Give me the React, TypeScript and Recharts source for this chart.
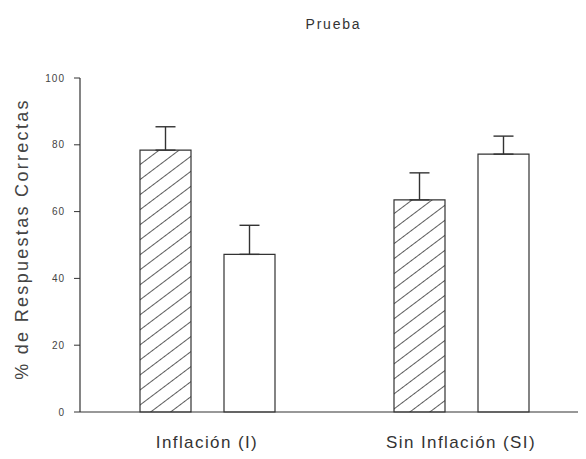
import { BarChart, Bar, XAxis, YAxis, ErrorBar } from 'recharts';

const categories = ['Inflación (I)', 'Sin Inflación (SI)'];
const hatchedValues = [78.4, 63.5];
const hatchedErrors = [7, 8.1];
const whiteValues = [47.2, 77.2];
const whiteErrors = [8.7, 5.4];
const yTicks = [0, 20, 40, 60, 80, 100];

const data = categories.map((name, i) => ({
  name,
  hatched: hatchedValues[i],
  hatchedErr: [0, hatchedErrors[i]],
  white: whiteValues[i],
  whiteErr: [0, whiteErrors[i]],
}));

const ink = '#333';
const font = 'Liberation Sans, Arial, sans-serif';

const YLabel = (props: any) => {
  const { viewBox } = props;
  const x = 14;
  const y = viewBox.y + viewBox.height / 2 - 6;
  return (
    <text
      x={x}
      y={y}
      transform={`rotate(-90, ${x}, ${y})`}
      textAnchor="middle"
      dominantBaseline="central"
      fontSize={18}
      letterSpacing={2.3}
      fill="#444"
      fontFamily={font}
    >
      % de Respuestas Correctas
    </text>
  );
};

const App = () => {
  return (
    <div style={{ position: 'relative', width: 578, height: 451, overflow: 'hidden', fontFamily: font }}>
      <div
        style={{
          position: 'absolute',
          top: 9,
          left: 0,
          width: 651,
          textAlign: 'center',
          fontSize: 14,
          lineHeight: 1,
          letterSpacing: 1.8,
          color: '#333',
        }}
      >
        Prueba
      </div>
      <BarChart
        width={580}
        height={451}
        data={data}
        margin={{ top: 70, right: 0, left: 0, bottom: 7 }}
        barSize={51}
        barGap={33}
      >
        <defs>
          <pattern id="hatch" patternUnits="userSpaceOnUse" width={12} height={12} patternTransform="rotate(53)">
            <rect width={12} height={12} fill="#fff" />
            <line x1={0} y1={0} x2={0} y2={12} stroke={ink} strokeWidth={1.6} />
          </pattern>
        </defs>
        <XAxis
          dataKey="name"
          height={40}
          axisLine={{ stroke: ink, strokeWidth: 1.2 }}
          tickLine={false}
          tick={{ fontSize: 17, fill: '#333', letterSpacing: 1.4 }}
          tickMargin={18}
        />
        <YAxis
          domain={[0, 100]}
          ticks={yTicks}
          width={72}
          axisLine={{ stroke: ink, strokeWidth: 1.2 }}
          tickLine={{ stroke: ink }}
          tickSize={6}
          tickMargin={9}
          tick={{ fontSize: 10, fill: '#444', letterSpacing: 1 }}
          label={<YLabel />}
        />
        <Bar dataKey="hatched" fill="url(#hatch)" stroke={ink} strokeWidth={1.2} isAnimationActive={false}>
          <ErrorBar dataKey="hatchedErr" width={10} stroke={ink} strokeWidth={1.4} direction="y" />
        </Bar>
        <Bar dataKey="white" fill="#fff" stroke={ink} strokeWidth={1.2} isAnimationActive={false}>
          <ErrorBar dataKey="whiteErr" width={10} stroke={ink} strokeWidth={1.4} direction="y" />
        </Bar>
      </BarChart>
    </div>
  );
};

export default App;
